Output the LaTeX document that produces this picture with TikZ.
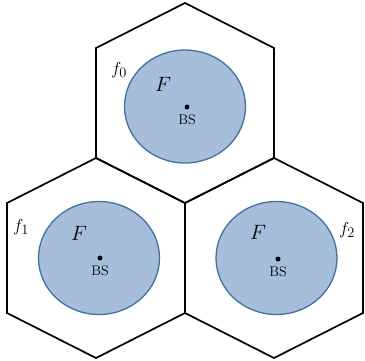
\documentclass[tikz,border=0pt]{standalone}
\usetikzlibrary{positioning,shapes.geometric}

\definecolor{cellblue}{RGB}{166,189,219}
\definecolor{celledge}{RGB}{65,113,156}

\begin{document}
\begin{tikzpicture}[x=1pt,y=-1pt,
      hexa/.style={draw,line width=1.7pt,line join=miter},
      cov/.style={ellipse,draw=celledge,fill=cellblue,line width=1.3pt,minimum width=121pt,minimum height=113pt,inner sep=0pt},
      bs/.style={circle,fill=black,inner sep=0pt,minimum size=5pt},
      bslab/.style={font=\fontsize{14}{16}\selectfont,inner sep=0pt},
      load/.style={font=\fontsize{22}{26}\selectfont,inner sep=0pt},
      freq/.style={font=\fontsize{19}{23}\selectfont,inner sep=0pt}
    ]
      \useasboundingbox (0,0) rectangle (365,360);
      % the three cells
      \foreach \hx/\hy in {185/3, 96/158, 274/158}
        \draw[hexa] (\hx,\hy) -- ++(89,45) -- ++(0,110) -- ++(-89,45) -- ++(-89,-45) -- ++(0,-110) -- cycle;

      \node[cov] (cov0) at (185,106.5) {};
      \node[cov] (cov1) at (99,258) {};
      \node[cov] (cov2) at (276.5,258) {};

      \node[bs] (bs0) at (187,107) {};
      \node[bs] (bs1) at (100,258) {};
      \node[bs] (bs2) at (278,259) {};
      \node[bslab,below=5pt of bs0] (lbs0) {BS};
      \node[bslab,below=5pt of bs1] (lbs1) {BS};
      \node[bslab,below=5pt of bs2] (lbs2) {BS};

      \node[load] (F0) at (163,84) {$F$};
      \node[load] (F1) at (79,233) {$F$};
      \node[load] (F2) at (258,232) {$F$};

      \node[freq] (f0) at (119,70) {$f_0$};
      \node[freq] (f1) at (21,227) {$f_1$};
      \node[freq] (f2) at (347,230) {$f_2$};
    \end{tikzpicture}
\end{document}
